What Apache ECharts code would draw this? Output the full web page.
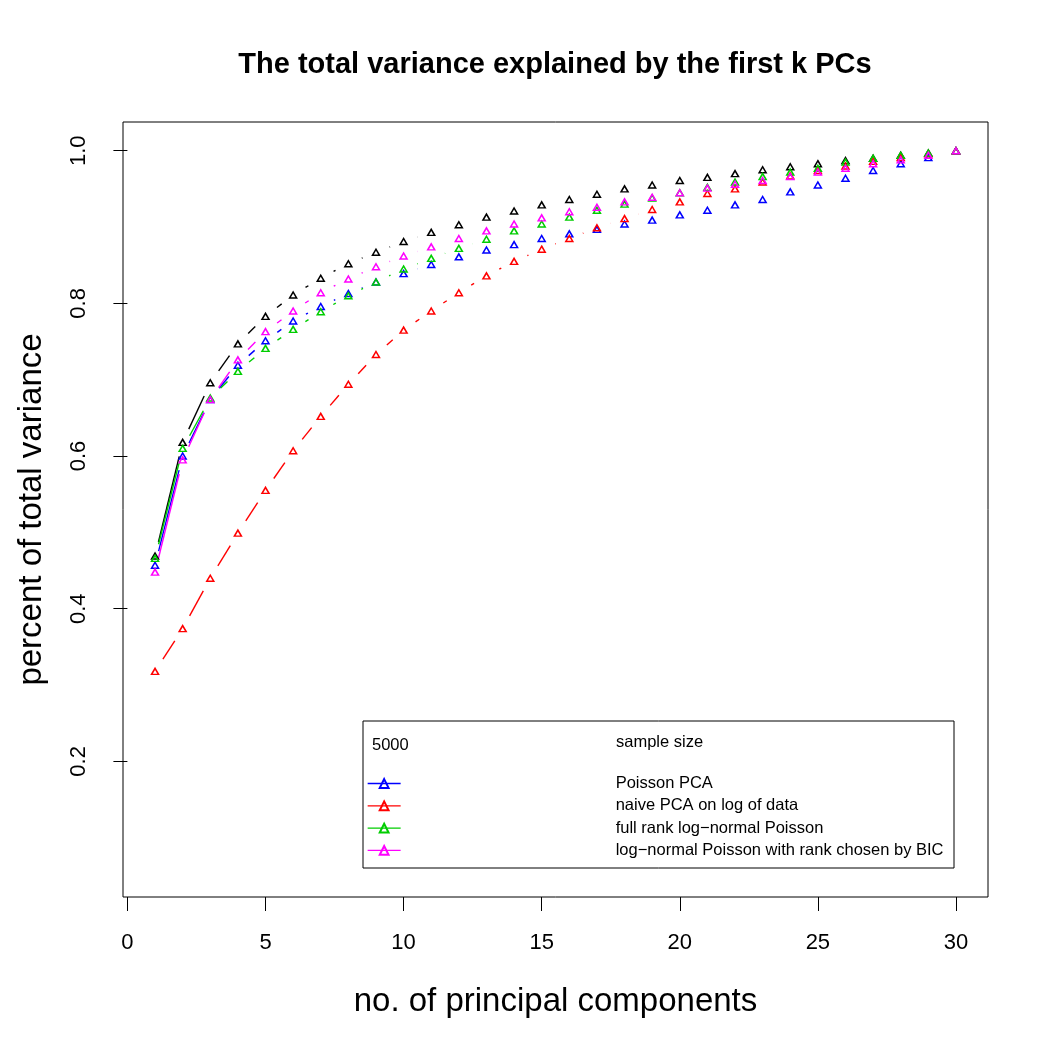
<!DOCTYPE html>
<html>
<head>
<meta charset="utf-8">
<title>The total variance explained by the first k PCs</title>
<script src="https://cdn.jsdelivr.net/npm/echarts@6/dist/echarts.min.js"></script>
<style>
  html, body { margin: 0; background: #fff; }
  #chart { width: 1050px; height: 1050px; }
</style>
</head>
<body>
<div id="chart"></div>
<script>
// number of principal components
const pcs = [1, 2, 3, 4, 5, 6, 7, 8, 9, 10, 11, 12, 13, 14, 15, 16, 17, 18, 19, 20, 21, 22, 23, 24, 25, 26, 27, 28, 29, 30];
const xTicks = [0, 5, 10, 15, 20, 25, 30];
const yTicks = [0.2, 0.4, 0.6, 0.8, 1.0];

// black curve, not in the legend
const otherVals = [0.469, 0.618, 0.696, 0.747, 0.783, 0.811, 0.833, 0.852, 0.867, 0.881, 0.893, 0.903, 0.913, 0.921, 0.929, 0.936, 0.943, 0.950, 0.955, 0.961, 0.965, 0.970, 0.975, 0.979, 0.983, 0.987, 0.990, 0.994, 0.997, 1.000];
const poissonPca = [0.457, 0.600, 0.674, 0.719, 0.751, 0.777, 0.796, 0.813, 0.828, 0.839, 0.851, 0.861, 0.870, 0.877, 0.885, 0.891, 0.897, 0.904, 0.909, 0.916, 0.922, 0.929, 0.936, 0.946, 0.955, 0.964, 0.974, 0.983, 0.991, 1.000];
const naivePca = [0.318, 0.374, 0.440, 0.499, 0.555, 0.607, 0.652, 0.694, 0.733, 0.765, 0.790, 0.814, 0.836, 0.855, 0.871, 0.885, 0.899, 0.911, 0.923, 0.933, 0.944, 0.950, 0.959, 0.967, 0.974, 0.980, 0.986, 0.991, 0.996, 1.000];
const fullRank = [0.466, 0.610, 0.676, 0.711, 0.741, 0.766, 0.789, 0.810, 0.828, 0.845, 0.859, 0.872, 0.884, 0.895, 0.904, 0.913, 0.922, 0.930, 0.938, 0.945, 0.952, 0.959, 0.966, 0.972, 0.977, 0.985, 0.990, 0.994, 0.997, 1.000];
const bicRank = [0.448, 0.595, 0.674, 0.726, 0.763, 0.790, 0.814, 0.832, 0.848, 0.862, 0.874, 0.885, 0.895, 0.904, 0.912, 0.920, 0.926, 0.933, 0.939, 0.945, 0.951, 0.956, 0.961, 0.966, 0.972, 0.977, 0.983, 0.988, 0.994, 1.000];

const legendNames = ['Poisson PCA', 'naive PCA on log of data', 'full rank log\u2212normal Poisson', 'log\u2212normal Poisson with rank chosen by BIC'];
const legendColors = ['#0000ff', '#ff0000', '#00cd00', '#ff00ff'];

const FONT = '"Liberation Sans", Arial, sans-serif';
const GAP = 14.5; // like type="b": line stops short of each point

let chart

// segments between points, with gaps around the points
const gappedLine = (vals, color) => ({
    type: 'custom',
    coordinateSystem: 'cartesian2d',
    data: pcs.map((k, i) => [k, vals[i]]),
    encode: { x: 0, y: 1 },
    silent: true,
    renderItem: (params, api) => {
        const i = params.dataIndex;
        if (i >= pcs.length - 1) return null;
        const a = api.coord([pcs[i], vals[i]]);
        const b = api.coord([pcs[i + 1], vals[i + 1]]);
        const dx = b[0] - a[0], dy = b[1] - a[1];
        const len = Math.hypot(dx, dy);
        if (len <= 2 * GAP) return null;
        const ux = dx / len, uy = dy / len;
        return {
            type: 'line',
            shape: { x1: a[0] + ux * GAP, y1: a[1] + uy * GAP, x2: b[0] - ux * GAP, y2: b[1] - uy * GAP },
            style: { stroke: color, lineWidth: 1.4 }
        };
    }
});

// hollow triangles
const points = (name, vals, color) => ({
    name,
    type: 'line',
    data: pcs.map((k, i) => [k, vals[i]]),
    symbol: 'triangle',
    symbolSize: [7, 6],
    showSymbol: true,
    lineStyle: { color, opacity: 0 },
    itemStyle: { color: 'rgba(0,0,0,0)', borderColor: color, borderWidth: 1.5 },
    emphasis: { disabled: true }
});

const initChart = () => {
    chart = echarts.init(document.getElementById('chart'));
    setOptions();
};

const setOptions = () => {
    const seriesVals = [poissonPca, naivePca, fullRank, bicRank];
    const series = [gappedLine(otherVals, '#000000'), points('other', otherVals, '#000000')];
    seriesVals.forEach((vals, i) => {
        series.push(gappedLine(vals, legendColors[i]));
        series.push(points(legendNames[i], vals, legendColors[i]));
    });

    chart.setOption({
        animation: false,
        backgroundColor: '#fff',
        title: {
            text: 'The total variance explained by the first k PCs',
            left: 550,
            top: 45,
            textAlign: 'center',
            textStyle: { fontFamily: FONT, fontSize: 29, fontWeight: 'bold', color: '#000' }
        },
        grid: {
            left: 123,
            top: 122,
            width: 865,
            height: 775,
            show: true,
            borderColor: '#000',
            borderWidth: 1,
            backgroundColor: 'transparent'
        },
        xAxis: {
            type: 'value',
            min: -0.16,
            max: 31.16,
            name: 'no. of principal components',
            nameLocation: 'middle',
            nameGap: 88,
            nameTextStyle: { fontFamily: FONT, fontSize: 33, color: '#000' },
            axisLine: { show: false },
            splitLine: { show: false },
            axisTick: { show: true, length: 14, customValues: xTicks, lineStyle: { color: '#000', width: 1 } },
            axisLabel: { customValues: xTicks, margin: 35, fontFamily: FONT, fontSize: 22, color: '#000' }
        },
        yAxis: {
            type: 'value',
            min: 0.0224,
            max: 1.0376,
            name: 'percent of total variance',
            nameLocation: 'middle',
            nameGap: 75,
            nameTextStyle: { fontFamily: FONT, fontSize: 33, color: '#000' },
            axisLine: { show: false },
            splitLine: { show: false },
            axisTick: { show: true, length: 14, customValues: yTicks, lineStyle: { color: '#000', width: 1 } },
            axisLabel: {
                customValues: yTicks,
                rotate: 90,
                margin: 33,
                fontFamily: FONT,
                fontSize: 22,
                color: '#000',
                formatter: v => v.toFixed(1)
            }
        },
        legend: {
            orient: 'vertical',
            left: 367,
            top: 775,
            padding: 0,
            itemWidth: 33,
            itemHeight: 11,
            itemGap: 5.3,
            selectedMode: false,
            data: legendNames.map((name, i) => ({
                name,
                lineStyle: { color: legendColors[i], opacity: 1, width: 1.3 }
            })),
            formatter: name => '{g|}{t|' + name + '}',
            textStyle: {
                rich: {
                    g: { width: 210, height: 16 },
                    t: { fontFamily: FONT, fontSize: 16.5, lineHeight: 16, color: '#000' }
                }
            }
        },
        graphic: [
            {
                type: 'rect',
                z: 1,
                shape: { x: 363, y: 721, width: 591, height: 147 },
                style: { fill: '#fff', stroke: '#000', lineWidth: 1 }
            },
            {
                type: 'text',
                z: 2,
                x: 372,
                y: 745,
                style: { text: '5000', fontFamily: FONT, fontSize: 16.5, fill: '#000', verticalAlign: 'middle' }
            },
            {
                type: 'text',
                z: 2,
                x: 616,
                y: 742,
                style: { text: 'sample size', fontFamily: FONT, fontSize: 16.5, fill: '#000', verticalAlign: 'middle' }
            }
        ],
        series
    });
};

initChart();
</script>
</body>
</html>
